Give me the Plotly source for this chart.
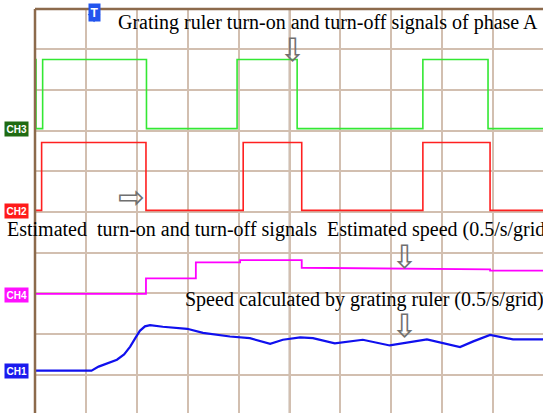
import plotly.graph_objects as go

# ---- data (time in divisions, amplitude in divisions) ----
ch3_t = [0, 0.02, 0.02, 0.15, 0.15, 2.19, 2.19, 3.97, 3.97, 5.15, 5.15, 7.62, 7.62, 8.90, 8.90, 9.98]
ch3_v = [3.75, 3.75, 2.05, 2.05, 3.75, 3.75, 2.05, 2.05, 3.75, 3.75, 2.05, 2.05, 3.75, 3.75, 2.05, 2.05]

ch2_t = [0, 0.13, 0.13, 2.18, 2.18, 4.09, 4.09, 5.24, 5.24, 7.62, 7.62, 8.94, 8.94, 9.98]
ch2_v = [0.04, 0.04, 1.71, 1.71, 0.04, 0.04, 1.71, 1.71, 0.04, 0.04, 1.71, 1.71, 0.04, 0.04]

ch4_t = [0, 2.18, 2.18, 3.16, 3.16, 4.03, 4.03, 5.24, 5.24, 7.0, 8.94, 8.94, 9.98]
ch4_v = [-2.01, -2.01, -1.63, -1.63, -1.24, -1.24, -1.18, -1.18, -1.37, -1.39, -1.41, -1.44, -1.44]

ch1_t = [0, 1.11, 1.25, 1.45, 1.61, 1.75, 1.87, 1.97, 2.06, 2.16, 2.26, 2.51, 2.99, 3.30, 3.83, 4.22,
         4.62, 4.87, 5.21, 5.46, 5.89, 6.44, 6.97, 7.70, 8.02, 8.35, 8.61, 8.94, 9.39, 9.98]
ch1_v = [-3.90, -3.90, -3.80, -3.70, -3.63, -3.50, -3.31, -3.10, -2.92, -2.81, -2.78, -2.82, -2.87,
         -2.97, -3.06, -3.10, -3.24, -3.14, -3.08, -3.10, -3.23, -3.14, -3.28, -3.13, -3.22, -3.32,
         -3.18, -3.02, -3.13, -3.13]

channel_names = ["CH3", "CH2", "CH4", "CH1"]
channel_ground = [2.05, 0.02, -2.04, -3.90]
channel_colors = ["#1f6b12", "#ff1a1a", "#ff10ff", "#1a1aee"]

X_RANGE = [0, 9.98]
Y_RANGE = [-4.94, 4.99]

fig = go.Figure()
fig.add_trace(go.Scatter(x=ch3_t, y=ch3_v, mode="lines", line=dict(color="#33e833", width=1.6)))
fig.add_trace(go.Scatter(x=ch2_t, y=ch2_v, mode="lines", line=dict(color="#ff2020", width=1.6)))
fig.add_trace(go.Scatter(x=ch4_t, y=ch4_v, mode="lines", line=dict(color="#ff00ff", width=1.8)))
fig.add_trace(go.Scatter(x=ch1_t, y=ch1_v, mode="lines", line=dict(color="#1010ee", width=2.2)))

# channel ground markers (triangles)
fig.add_trace(go.Scatter(x=[-0.07] * 4, y=channel_ground, mode="markers", cliponaxis=False,
                         marker=dict(symbol="triangle-right", size=10, color=channel_colors)))

annotations = []
for name, g, c in zip(channel_names, channel_ground, channel_colors):
    annotations.append(dict(xref="paper", yref="y", x=0, y=g, xanchor="right", yanchor="middle",
                            xshift=-6, text="<b>%s</b>" % name, showarrow=False,
                            font=dict(family="Liberation Sans", size=10, color="white"),
                            bgcolor=c, borderpad=1.5))

# trigger marker
annotations.append(dict(xref="paper", yref="paper", x=(94 - 35) / 508, y=1.0, yshift=-3,
                        xanchor="center", yanchor="middle", text="<b>T</b>", showarrow=False,
                        font=dict(family="Liberation Sans", size=12, color="white"),
                        bgcolor="#2255ee", borderpad=1.5))
fig.add_trace(go.Scatter(x=[1.16], y=[4.80], mode="markers", cliponaxis=False,
                         marker=dict(symbol="triangle-down", size=11, color="#2255ee")))

serif = dict(family="Liberation Serif", size=20, color="black")
annotations += [
    dict(xref="x", yref="y", x=1.59, y=4.67, xanchor="left", yanchor="middle", showarrow=False,
         text="Grating ruler turn-on and turn-off signals of phase A", font=serif),
    dict(xref="paper", yref="y", x=(5 - 35) / 508, y=-0.44, xanchor="left", yanchor="middle", showarrow=False,
         text="Estimated\u00a0 turn-on and turn-off signals", font=serif),
    dict(xref="x", yref="y", x=5.70, y=-0.44, xanchor="left", yanchor="middle", showarrow=False,
         text="Estimated speed (0.5/s/grid)", font=serif),
    dict(xref="x", yref="y", x=2.91, y=-2.16, xanchor="left", yanchor="middle", showarrow=False,
         text="Speed calculated by grating ruler (0.5/s/grid)", font=serif),
]
arrow_font = dict(family="DejaVu Sans", size=32, color="#707070")
for ax_, ay_, ch in [(5.05, 3.98, "\u21e9"), (7.25, -1.11, "\u21e9"), (7.25, -2.80, "\u21e9"), (1.89, 0.37, "\u21e8")]:
    annotations.append(dict(xref="x", yref="y", x=ax_, y=ay_, text=ch, showarrow=False,
                            xanchor="center", yanchor="middle", font=arrow_font))

grid_col = "#d2bfb0"
center_col = "#8a6a52"
shapes = [
    dict(type="line", xref="x", yref="paper", x0=5, x1=5, y0=0, y1=1, line=dict(color=center_col, width=1.5), layer="below"),
    dict(type="line", xref="paper", yref="y", x0=0, x1=1, y0=0, y1=0, line=dict(color=center_col, width=1.5), layer="below"),
    dict(type="line", xref="paper", yref="paper", x0=0, x1=0, y0=0, y1=1, line=dict(color="#8c6a4c", width=2.5)),
    dict(type="line", xref="paper", yref="paper", x0=0, x1=1, y0=1, y1=1, line=dict(color="#8c6a4c", width=2.5)),
]

fig.update_layout(
    width=543, height=413,
    margin=dict(l=35, r=0, t=9, b=0),
    paper_bgcolor="white", plot_bgcolor="white",
    showlegend=False,
    annotations=annotations,
    shapes=shapes,
    xaxis=dict(range=X_RANGE, dtick=1, tick0=0, showgrid=True, gridcolor=grid_col, gridwidth=1.5,
               showticklabels=False, zeroline=False, ticks=""),
    yaxis=dict(range=Y_RANGE, dtick=1, tick0=0, showgrid=True, gridcolor=grid_col, gridwidth=1.5,
               showticklabels=False, zeroline=False, ticks=""),
)

fig.write_html("out.html")
